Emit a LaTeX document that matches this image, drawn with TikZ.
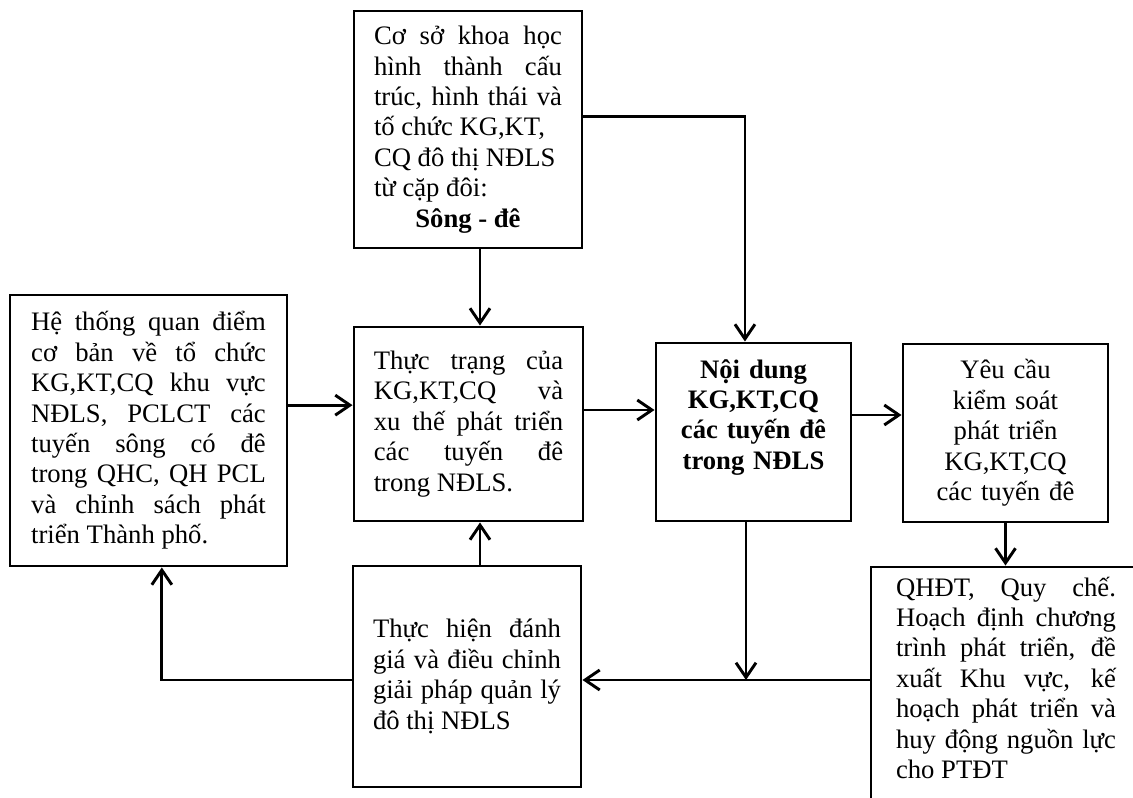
\documentclass[tikz,border=0pt]{standalone}
\usepackage{fontspec}
\setmainfont{Liberation Serif}
\usetikzlibrary{shapes, arrows.meta}
\setlength{\parindent}{0pt}
\tolerance=9999
\hyphenpenalty=10000
\tikzstyle{box} = [rectangle, draw, line width=2.2pt, inner sep=0pt,
    font=\fontsize{20}{22.8}\selectfont, align=justify]
\tikzstyle{line} = [draw, line width=2.2pt, -{Straight Barb[length=11pt, width=15pt]}]

\begin{document}
\begin{tikzpicture}[x=0.75pt, y=-0.75pt]
        \useasboundingbox (0,0) rectangle (1133,798);
        % Nodes
        \node [box, minimum width=171pt, minimum height=177.75pt, text width=141pt] (coso) at (468,129.5)
            {Cơ sở khoa học\linebreak hình thành cấu\linebreak trúc, hình thái và\linebreak tố chức KG,KT,\\ CQ đô thị NĐLS\\ từ cặp đôi:\\ \makebox[\linewidth]{\textbf{Sông - đê}}};
        \node [box, minimum width=207.75pt, minimum height=203.25pt, text width=176pt] (hethong) at (148.5,430.5)
            {Hệ thống quan điểm\linebreak cơ bản về tổ chức\linebreak KG,KT,CQ khu vực\linebreak NĐLS, PCLCT các\linebreak tuyến sông có đê\linebreak trong QHC, QH PCL\linebreak và chỉnh sách phát\linebreak triển Thành phố.};
        \node [box, minimum width=171.75pt, minimum height=145.5pt, text width=142pt] (thuctrang) at (468.5,424)
            {Thực trạng của\linebreak KG,KT,CQ và\linebreak xu thế phát triển\linebreak các tuyến đê\linebreak trong NĐLS.};
        \node [box, minimum width=146.25pt, minimum height=133.5pt, text width=135pt, align=center,
            text depth=95pt, font=\fontsize{20}{22.8}\selectfont\bfseries] (noidung) at (753.5,432)
            {Nội dung\\ KG,KT,CQ\\ các tuyến đê\\ trong NĐLS};
        \node [box, minimum width=153.75pt, minimum height=133.5pt, text width=140pt, align=center] (yeucau) at (1005.5,433)
            {Yêu cầu\\ kiểm soát\\ phát triển\\ KG,KT,CQ\\ các tuyến đê};
        \node [box, minimum width=202.5pt, minimum height=179.25pt, text width=165pt, text depth=150pt] (qhdt) at (1006,686.5)
            {QHĐT, Quy chế.\linebreak Hoạch định chương\linebreak trình phát triển, đề\linebreak xuất Khu vực, kế\linebreak hoạch phát triển và\linebreak huy động nguồn lực\linebreak cho PTĐT};
        \node [box, minimum width=171pt, minimum height=165.75pt, text width=141pt] (thuchien) at (467,676.5)
            {Thực hiện đánh\linebreak giá và điều chỉnh\linebreak giải pháp quản lý\linebreak đô thị NĐLS};
        \coordinate (meet) at (746,680);

        % Lines
        \path [line] ([xshift=9pt]coso.south) -- ([xshift=9pt]coso.south |- thuctrang.north);
        \path [line] ([yshift=9.4pt]coso.east) -| ([xshift=-6.4pt]noidung.north);
        \path [line] ([yshift=19pt]hethong.east) -- ([yshift=19pt]hethong.east -| thuctrang.west);
        \path [line] ([yshift=10.5pt]thuctrang.east) -- ([yshift=10.5pt]thuctrang.east -| noidung.west);
        \path [line] ([yshift=12.75pt]noidung.east) -- ([yshift=12.75pt]noidung.east -| yeucau.west);
        \path [line] (yeucau.south) -- (yeucau.south |- qhdt.north);
        \path [line] (noidung.south -| meet) -- (meet);
        \path [line] (qhdt.west |- meet) -- (thuchien.east |- meet);
        \path [line] ([xshift=9.75pt]thuchien.north) -- ([xshift=9.75pt]thuchien.north |- thuctrang.south);
        \path [line] (thuchien.west |- meet) -| ([xshift=10pt]hethong.south);
    \end{tikzpicture}
\end{document}
